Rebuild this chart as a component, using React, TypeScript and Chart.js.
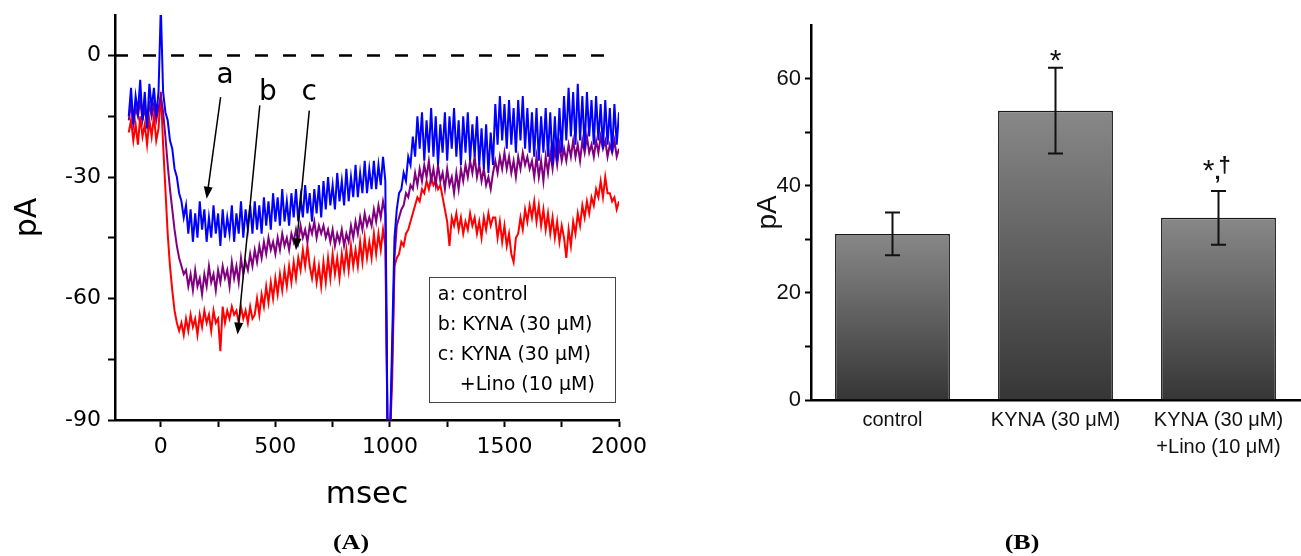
import React, { useEffect, useRef } from 'react';
import { Chart, registerables } from 'chart.js';
Chart.register(...registerables);

// ---------- Panel A data (current traces, pA, sampled every 10 ms from -140 ms) ----------
const T_START = -140;
const T_STEP = 10;

// a: control (blue)
const traceControl = [
  -15, -8, -17, -10, -14, -6, -16, -9, -18, -7, -13, -8, -15, -9,
  12,
  -9, -14, -16, -21, -23, -28, -30, -34, -36, -40,
  -37, -44, -38, -46, -39, -45, -36, -43, -38, -46, -40, -45, -37, -44, -39, -47, -38, -45, -40, -44, -37, -46, -39, -44, -36, -45, -38, -43, -37, -44,
  -36, -43, -37, -44, -35, -42, -36, -43, -34, -41, -35, -42, -33, -41, -36, -42, -34, -40, -33, -41, -35, -40, -32, -39, -34, -41, -33, -39, -32, -40,
  -31, -38, -30, -37, -32, -38, -29, -36, -31, -37, -28, -36, -30, -35, -27, -35, -29, -34, -26, -34, -28, -33, -26, -33, -27, -32, -25, -31,
  -95, -95,
  -70, -45, -38, -34, -33, -29, -31, -25, -27, -20,
  -25, -15, -23, -14, -26, -16, -24, -13, -25, -15, -27, -17, -24, -14, -26, -15, -23, -13, -25, -16, -27, -15, -24, -14, -26, -17, -25, -15, -27, -18, -28, -17, -29, -19, -27,
  -12, -22, -10, -21, -12, -23, -11, -22, -13, -24, -11, -21, -10, -23, -13, -24, -14, -25, -13, -26, -15, -24, -13, -25, -14, -27, -15, -26, -13, -24,
  -10, -21, -8, -20, -9, -22, -7, -21, -10, -23, -9, -20, -11, -22, -10, -21, -12, -23, -11, -22, -13, -24, -12, -22, -14,
];

// b: KYNA (30 uM) (red)
const traceKyna = [
  -19, -16, -21, -17, -22, -15, -20, -17, -22, -16, -20, -15, -21, -18,
  -9,
  -22, -33, -44, -52, -58, -63, -66, -68, -66, -69,
  -65, -68, -64, -67, -65, -69, -64, -67, -63, -66, -64, -68, -63, -66, -65, -73, -62, -66, -63, -65, -62, -64, -63, -66, -62, -65, -63, -66, -62, -65,
  -64, -60, -64, -59, -62, -57, -61, -56, -60, -55, -59, -54, -58, -53, -57, -52, -56, -51, -55, -50, -53, -48, -52, -47, -52, -55, -51, -56, -52, -57,
  -51, -56, -50, -55, -49, -54, -50, -55, -49, -53, -48, -53, -47, -52, -48, -52, -46, -51, -45, -50, -46, -50, -44, -49, -44, -48, -43, -47,
  -95, -95,
  -80, -52, -50, -49, -46, -47, -44, -43, -41, -39,
  -37, -35, -36, -33, -34, -31, -33, -30, -32, -31, -33, -32, -35, -38, -41, -47, -40, -42, -39, -43, -40, -44, -41, -43, -39, -42, -40, -44, -41, -45, -40, -43, -39, -42, -40,
  -40, -45, -41, -46, -42, -47, -44, -49, -51, -45, -44, -40, -43, -38, -41, -37, -40, -36, -41, -37, -42, -38, -43, -39, -44, -40, -45, -41, -46, -42,
  -45, -50, -43, -47, -41, -44, -39, -42, -37, -40, -36, -39, -35, -37, -33, -35, -31, -35, -30, -34, -34, -36, -35, -38, -36,
];

// c: KYNA (30 uM) + Lino (10 uM) (purple)
const traceKynaLino = [
  -16, -12, -17, -13, -15, -11, -16, -13, -17, -12, -15, -12, -16, -13,
  -10,
  -14, -20, -27, -33, -38, -43, -47, -50, -52, -54,
  -53, -57, -54, -58, -53, -57, -55, -59, -54, -57, -52, -56, -54, -58, -53, -56, -52, -55, -53, -57, -51, -55, -52, -56, -50, -54, -51, -53, -49, -52,
  -48, -51, -47, -50, -46, -49, -45, -48, -46, -49, -45, -48, -44, -47, -45, -48, -44, -46, -43, -46, -42, -45, -43, -46, -42, -44, -41, -45, -42, -44,
  -42, -45, -43, -46, -43, -47, -44, -46, -43, -47, -44, -46, -42, -45, -41, -44, -40, -43, -39, -42, -40, -42, -38, -41, -37, -40, -36, -39,
  -95, -95,
  -75, -50, -42, -40, -38, -37, -34, -35, -32, -33,
  -29, -32, -28, -31, -27, -30, -26, -31, -28, -32, -27, -31, -29, -33, -28, -32, -30, -34, -29, -33, -28, -31, -27, -30, -26, -29, -25, -30, -27, -31, -28, -32, -30, -33, -29,
  -26, -29, -25, -28, -24, -28, -25, -29, -26, -30, -25, -28, -24, -27, -25, -28, -26, -30, -25, -30, -26, -31, -25, -29, -24, -28, -23, -27, -22, -26,
  -23, -26, -22, -25, -21, -25, -22, -26, -21, -24, -20, -24, -22, -25, -21, -24, -20, -23, -21, -25, -22, -24, -21, -25, -23,
];

const xTicksA = [0, 250, 500, 750, 1000, 1250, 1500, 1750, 2000];
const yTicksA = [-90, -75, -60, -45, -30, -15, 0];
const legendLinesA = ['a: control', 'b: KYNA (30 \u03BCM)', 'c: KYNA (30 \u03BCM)', '  +Lino (10 \u03BCM)'];
const letterLabelsA = [
  { t: 'a', x: 280, y: -6.9 },
  { t: 'b', x: 467, y: -11.1 },
  { t: 'c', x: 648, y: -11.1 },
];
const arrowsA = [
  { x1: 261, y1: -10.3, x2: 200, y2: -35.4 },
  { x1: 432, y1: -12.3, x2: 335, y2: -68.9 },
  { x1: 648, y1: -13.6, x2: 590, y2: -48.1 },
];
const legendBoxA = { x1: 1170, y1: -54.8, x2: 1983, y2: -85.7 };

// ---------- Panel B data ----------
const barCategories: (string | string[])[] = ['control', 'KYNA (30 \u03BCM)', ['KYNA (30 \u03BCM)', '+Lino (10 \u03BCM)']];
const barMeans = [31, 54, 34];
const barErrors = [4, 8, 5];
const barMarks = ['', '*', '*,\u2020'];
const yTicksB = [0, 10, 20, 30, 40, 50, 60];

const FONT_A = '"DejaVu Sans", sans-serif';
const FONT_B = '"Liberation Sans", Arial, sans-serif';

const annotAPlugin = {
  id: 'annotA',
  afterDatasetsDraw(chart: any) {
    const { ctx } = chart;
    const xs = chart.scales.x;
    const ys = chart.scales.y;
    ctx.save();
    ctx.strokeStyle = '#000';
    ctx.fillStyle = '#000';
    ctx.lineWidth = 1.5;
    for (const a of arrowsA) {
      const x1 = xs.getPixelForValue(a.x1);
      const y1 = ys.getPixelForValue(a.y1);
      const x2 = xs.getPixelForValue(a.x2);
      const y2 = ys.getPixelForValue(a.y2);
      const ang = Math.atan2(y2 - y1, x2 - x1);
      const L = 12, W = 4.5;
      const c = Math.cos(ang), s = Math.sin(ang);
      ctx.beginPath();
      ctx.moveTo(x1, y1);
      ctx.lineTo(x2 - L * c * 0.8, y2 - L * s * 0.8);
      ctx.stroke();
      ctx.beginPath();
      ctx.moveTo(x2, y2);
      ctx.lineTo(x2 - L * c + W * s, y2 - L * s - W * c);
      ctx.lineTo(x2 - L * c - W * s, y2 - L * s + W * c);
      ctx.closePath();
      ctx.fill();
    }
    ctx.font = '28px ' + FONT_A;
    ctx.textAlign = 'center';
    ctx.textBaseline = 'alphabetic';
    for (const l of letterLabelsA) {
      ctx.fillText(l.t, xs.getPixelForValue(l.x), ys.getPixelForValue(l.y));
    }
    // legend box
    const bx1 = xs.getPixelForValue(legendBoxA.x1);
    const by1 = ys.getPixelForValue(legendBoxA.y1);
    const bx2 = xs.getPixelForValue(legendBoxA.x2);
    const by2 = ys.getPixelForValue(legendBoxA.y2);
    ctx.fillStyle = '#fff';
    ctx.fillRect(bx1, by1, bx2 - bx1, by2 - by1);
    ctx.strokeStyle = '#444';
    ctx.lineWidth = 1;
    ctx.strokeRect(Math.round(bx1) + 0.5, Math.round(by1) + 0.5, Math.round(bx2 - bx1), Math.round(by2 - by1));
    ctx.fillStyle = '#000';
    ctx.font = '19px ' + FONT_A;
    ctx.textAlign = 'left';
    legendLinesA.forEach((line, i) => {
      const indent = line.startsWith('  ') ? 22 : 0;
      ctx.fillText(line.trim(), bx1 + 9 + indent, by1 + 23 + i * 30);
    });
    ctx.restore();
  },
};

const errorBPlugin = {
  id: 'errorB',
  afterDatasetsDraw(chart: any) {
    const { ctx } = chart;
    const ys = chart.scales.y;
    const meta = chart.getDatasetMeta(0);
    ctx.save();
    ctx.strokeStyle = '#111';
    ctx.fillStyle = '#111';
    ctx.lineWidth = 2;
    meta.data.forEach((bar: any, i: number) => {
      const cx = bar.x;
      const yTop = ys.getPixelForValue(barMeans[i] + barErrors[i]);
      const yBot = ys.getPixelForValue(barMeans[i] - barErrors[i]);
      ctx.beginPath();
      ctx.moveTo(cx, yTop);
      ctx.lineTo(cx, yBot);
      ctx.moveTo(cx - 7.5, yTop);
      ctx.lineTo(cx + 7.5, yTop);
      ctx.moveTo(cx - 7.5, yBot);
      ctx.lineTo(cx + 7.5, yBot);
      ctx.stroke();
      const mark = barMarks[i];
      if (!mark) return;
      ctx.textAlign = 'center';
      ctx.textBaseline = 'alphabetic';
      if (mark.indexOf(',') < 0) {
        ctx.font = '30px ' + FONT_B;
        ctx.fillText(mark, cx, yTop + 2);
      } else {
        const [m1, m2] = mark.split(',');
        ctx.font = '30px ' + FONT_B;
        ctx.fillText(m1, cx - 10, yTop - 11);
        ctx.font = 'bold 22px ' + FONT_B;
        ctx.fillText(m2, cx + 6, yTop - 19);
        ctx.font = 'bold 22px ' + FONT_B;
        ctx.fillText(',', cx - 1, yTop - 12);
      }
    });
    ctx.restore();
  },
};

export default function App() {
  const refA = useRef<HTMLCanvasElement>(null);
  const refB = useRef<HTMLCanvasElement>(null);

  useEffect(() => {
    const toXY = (vals: number[]) => vals.map((v, i) => ({ x: T_START + i * T_STEP, y: v }));
    const lineDs = (label: string, vals: number[], color: string, order: number) => ({
      label,
      data: toXY(vals),
      borderColor: color,
      backgroundColor: color,
      borderWidth: 2,
      pointRadius: 0,
      tension: 0,
      order,
    });

    const chartA = new Chart(refA.current as HTMLCanvasElement, {
      type: 'line',
      data: {
        datasets: [
          {
            label: 'zero',
            data: [{ x: -200, y: 0 }, { x: 2000, y: 0 }],
            borderColor: '#000',
            borderWidth: 2.5,
            borderDash: [13, 15],
            pointRadius: 0,
            order: 0,
          } as any,
          lineDs('a: control', traceControl, '#0000ff', 1),
          lineDs('c: KYNA (30 μM) +Lino (10 μM)', traceKynaLino, '#800080', 2),
          lineDs('b: KYNA (30 μM)', traceKyna, '#ff0000', 3),
        ],
      },
      options: {
        animation: false,
        responsive: false,
        layout: { padding: { top: 15, right: 71, bottom: 0, left: 0 } },
        plugins: { legend: { display: false }, tooltip: { enabled: false } },
        scales: {
          x: {
            type: 'linear',
            min: -200,
            max: 2000,
            afterBuildTicks: (s: any) => { s.ticks = xTicksA.map((v) => ({ value: v })); },
            afterFit: (s: any) => { s.height = 136; s.paddingLeft = 0; s.paddingRight = 0; },
            ticks: {
              autoSkip: false,
              maxRotation: 0,
              padding: 7,
              color: '#000',
              font: { family: FONT_A, size: 22 },
              callback: (v: any) => (Number(v) % 500 === 0 ? String(v) : ''),
            },
            grid: { drawOnChartArea: false, drawTicks: true, tickLength: 7, tickColor: '#000', tickWidth: 2 },
            border: { display: true, color: '#000', width: 2.5 },
            title: { display: true, text: 'msec', color: '#000', font: { family: FONT_A, size: 31 }, padding: { top: 0, bottom: 42 } },
          },
          y: {
            type: 'linear',
            min: -90,
            max: 10,
            afterBuildTicks: (s: any) => { s.ticks = yTicksA.map((v) => ({ value: v })); },
            afterFit: (s: any) => { s.width = 115; s.paddingTop = 0; s.paddingBottom = 0; },
            ticks: {
              autoSkip: false,
              padding: 7,
              color: '#000',
              font: { family: FONT_A, size: 22 },
              callback: (v: any) => (Number(v) % 30 === 0 ? String(v) : ''),
            },
            grid: { drawOnChartArea: false, drawTicks: true, tickLength: 7, tickColor: '#000', tickWidth: 2 },
            border: { display: true, color: '#000', width: 2.5 },
            title: { display: true, text: 'pA', color: '#000', font: { family: FONT_A, size: 30 }, padding: { top: 10, bottom: 0 } },
          },
        },
      } as any,
      plugins: [annotAPlugin],
    });

    const chartB = new Chart(refB.current as HTMLCanvasElement, {
      type: 'bar',
      data: {
        labels: barCategories as any,
        datasets: [
          {
            label: 'pA',
            data: barMeans,
            backgroundColor: (c: any) => {
              const chart = c.chart;
              const ys = chart.scales && chart.scales.y;
              if (c.type !== 'data' || !ys) return '#666';
              const top = ys.getPixelForValue(barMeans[c.dataIndex]);
              const bot = ys.getPixelForValue(0);
              if (!isFinite(top) || !isFinite(bot) || top === bot) return '#666';
              const g = chart.ctx.createLinearGradient(0, top, 0, bot);
              g.addColorStop(0, '#888888');
              g.addColorStop(1, '#363636');
              return g;
            },
            borderColor: '#1a1a1a',
            borderWidth: 1.5,
            barPercentage: 0.705,
            categoryPercentage: 1,
          } as any,
        ],
      },
      options: {
        animation: false,
        responsive: false,
        layout: { padding: { top: 25, right: 1, bottom: 0, left: 0 } },
        plugins: { legend: { display: false }, tooltip: { enabled: false } },
        scales: {
          x: {
            afterFit: (s: any) => { s.height = 156; s.paddingLeft = 0; s.paddingRight = 0; },
            ticks: {
              autoSkip: false,
              maxRotation: 0,
              padding: 7,
              color: '#111',
              font: { family: FONT_B, size: 20, lineHeight: 1.35 },
            },
            grid: { display: false, drawTicks: false },
            border: { display: true, color: '#000', width: 2.5 },
          },
          y: {
            min: 0,
            max: 70,
            afterBuildTicks: (s: any) => { s.ticks = yTicksB.map((v) => ({ value: v })); },
            afterFit: (s: any) => { s.width = 121; s.paddingTop = 0; s.paddingBottom = 0; },
            ticks: {
              autoSkip: false,
              padding: 4,
              color: '#111',
              font: { family: FONT_B, size: 22 },
              callback: (v: any) => (Number(v) % 20 === 0 ? String(v) : ''),
            },
            grid: { drawOnChartArea: false, drawTicks: true, tickLength: 6, tickColor: '#000', tickWidth: 2 },
            border: { display: true, color: '#000', width: 2.5 },
            title: { display: true, text: 'pA', color: '#111', font: { family: FONT_B, size: 28 }, padding: { top: 61, bottom: 0 } },
          },
        },
      } as any,
      plugins: [errorBPlugin],
    });

    return () => {
      chartA.destroy();
      chartB.destroy();
    };
  }, []);

  const captionStyle: React.CSSProperties = {
    position: 'absolute',
    top: 529,
    width: 100,
    height: 26,
    lineHeight: '26px',
    textAlign: 'center',
    fontFamily: '"Liberation Serif", "Times New Roman", serif',
    fontWeight: 'bold',
    fontSize: 20,
    transform: 'scaleX(1.3)',
    color: '#000',
  };

  return (
    <div style={{ position: 'fixed', left: 0, top: 0, width: 1301, height: 556, background: '#fff', overflow: 'hidden' }}>
      <canvas ref={refA} width={690} height={556} style={{ position: 'absolute', left: 0, top: 0 }} />
      <canvas ref={refB} width={611} height={556} style={{ position: 'absolute', left: 690, top: 0 }} />
      <div style={{ ...captionStyle, left: 301 }}>(A)</div>
      <div style={{ ...captionStyle, left: 972 }}>(B)</div>
    </div>
  );
}
